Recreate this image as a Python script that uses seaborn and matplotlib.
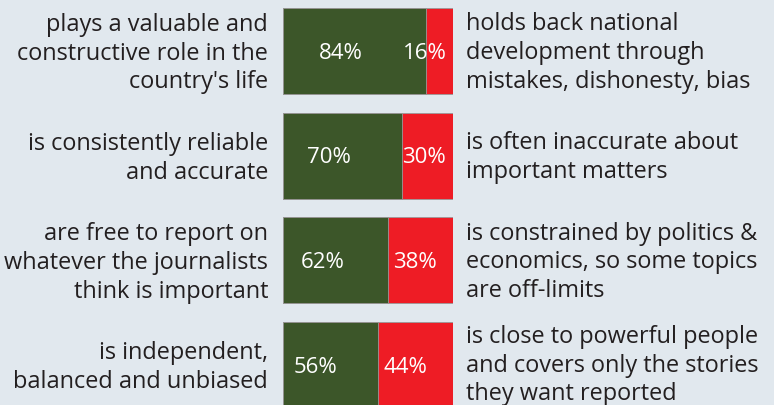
import matplotlib
matplotlib.use("Agg")
import matplotlib.pyplot as plt
import matplotlib.transforms as mtransforms
import seaborn as sns
import pandas as pd

left_labels = [
    "plays a valuable and\nconstructive role in the\ncountry's life",
    "is consistently reliable\nand accurate",
    "are free to report on\nwhatever the journalists\nthink is important",
    "is independent,\nbalanced and unbiased",
]
right_labels = [
    "holds back national\ndevelopment through\nmistakes, dishonesty, bias",
    "is often inaccurate about\nimportant matters",
    "is constrained by politics &\neconomics, so some topics\nare off-limits",
    "is close to powerful people\nand covers only the stories\nthey want reported",
]
positive = [84, 70, 62, 56]
negative = [16, 30, 38, 44]

BG = "#e1e8ee"
GREEN = "#3c5629"
RED = "#ee1c25"
TXT = "#231f20"

# label nudges (pixels) to mimic original label placement
green_shift = [-14, -14, -13, -15]
red_shift = [-15, -4, -6, -10]

sns.set_theme(style="white")
plt.rcParams["font.family"] = ["Open Sans", "DejaVu Sans"]

df = pd.DataFrame({
    "cat": [str(i) for i in range(4)],
    "pos": positive,
    "total": [p + n for p, n in zip(positive, negative)],
})

fig = plt.figure(figsize=(7.74, 4.06), dpi=100, facecolor=BG)
ax = fig.add_axes([283 / 774, 0, 170 / 774, 1])
ax.set_facecolor(BG)

w = 86 / 104.7
sns.barplot(data=df, x="total", y="cat", orient="h", color=RED, width=w,
            edgecolor="#9a9a9a", linewidth=0.6, ax=ax, saturation=1)
sns.barplot(data=df, x="pos", y="cat", orient="h", color=GREEN, width=w,
            edgecolor="#9a9a9a", linewidth=0.6, ax=ax, saturation=1)

ax.set_xlim(0, 100)
ax.set_ylim(3.381, -0.497)
ax.axis("off")

fs = 16.9
pfs = 16
for i in range(4):
    p, n = positive[i], negative[i]
    tg = mtransforms.offset_copy(ax.transData, fig=fig, x=green_shift[i], y=0, units="dots")
    ax.text(p / 2, i + 0.01, f"{p}%", transform=tg, color="white",
            ha="center", va="center", fontsize=pfs)
    trd = mtransforms.offset_copy(ax.transData, fig=fig, x=red_shift[i], y=0, units="dots")
    ax.text(p + n / 2, i + 0.01, f"{n}%", transform=trd, color="white",
            ha="center", va="center", fontsize=pfs)
    tl = mtransforms.offset_copy(ax.transData, fig=fig, x=-15, y=0, units="dots")
    ax.text(0, i + 0.015, left_labels[i], transform=tl, ha="right", va="center",
            fontsize=fs, color=TXT, linespacing=1.27, multialignment="right", clip_on=False)
    tr = mtransforms.offset_copy(ax.transData, fig=fig, x=13, y=0, units="dots")
    ax.text(100, i + (0.01 if i < 3 else -0.005), right_labels[i], transform=tr,
            ha="left", va="center", fontsize=fs, color=TXT, linespacing=1.27,
            multialignment="left", clip_on=False)

fig.savefig("out.png", dpi=100, facecolor=BG)
